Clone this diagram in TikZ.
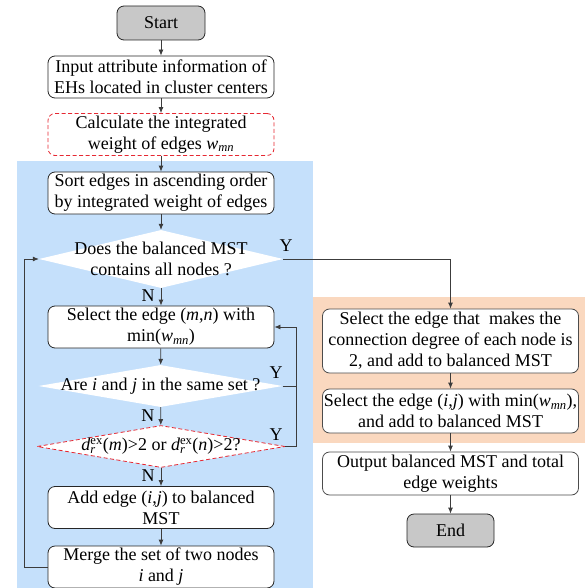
\documentclass[tikz,border=0pt]{standalone}
\usepackage{fontspec}
\setmainfont{Liberation Serif}
\usetikzlibrary{shapes.geometric,arrows.meta}
\definecolor{bgblue}{RGB}{197,224,251}
\definecolor{bgpeach}{RGB}{250,216,191}
\definecolor{termgray}{RGB}{200,200,200}
\definecolor{linegray}{RGB}{60,60,60}
\definecolor{dashred}{RGB}{230,40,50}
\newcommand\wmn{\textit{w}\textsubscript{\textit{mn}}}
\newcommand\drex{\textit{d}\rlap{\textsubscript{\textit{r}}}\textsuperscript{ex}}
\tikzset{
  base/.style={font=\fontsize{18}{21}\selectfont, align=center, inner sep=0pt},
  procbox/.style={base, draw=black!85, line width=0.8pt, fill=white, rounded corners=7pt,
    minimum width=226, minimum height=42},
  dashbox/.style={procbox, draw=dashred, dash pattern=on 4pt off 2.5pt},
  termbox/.style={procbox, fill=termgray, minimum width=88, minimum height=34},
  decision/.style={shape=diamond, fill=white, inner sep=0pt, minimum width=244, minimum height=58},
  txt/.style={base},
  flowarr/.style={draw=linegray, line width=0.8pt, -{Latex[length=6pt,width=5pt]}},
  flowline/.style={draw=linegray, line width=0.8pt},
  yn/.style={base}
}
\begin{document}
\begin{tikzpicture}[x=1pt,y=-1pt]
\useasboundingbox (0,0) rectangle (585,588);
% background panels
\fill[bgblue] (17,161) rectangle (313,588);
\fill[bgpeach] (313,297) rectangle (585,443);

% main column
\node[termbox] (start) at (161,23) {Start};
\node[procbox] (input) at (161,77) {Input attribute information of\\EHs located in cluster centers};
\node[dashbox] (calc) at (161,134.5) {Calculate the integrated\\weight of edges \wmn};
\node[procbox] (sort) at (161,193) {Sort edges in ascending order\\by integrated weight of edges};
\node[decision] (d1) at (161,259) {};
\node[txt] (d1t) at (d1) {Does the balanced MST\\contains all nodes ?};
\node[procbox] (sel) at (161,327) {Select the edge (\textit{m},\textit{n}) with\\min(\wmn)};
\node[decision, minimum height=42] (d2) at (160.5,386) {};
\node[txt] (d2t) at (d2) {Are \textit{i} and \textit{j} in the same set ?};
\node[decision, draw=dashred, line width=0.8pt, dash pattern=on 4pt off 2.5pt, minimum width=248, minimum height=42] (d3) at (161,446.5) {};
\node[txt] (d3t) at (d3) {\drex(\textit{m})>2 or \drex(\textit{n})>2?};
\node[procbox] (add) at (161,507.5) {Add edge (\textit{i},\textit{j}) to balanced\\MST};
\node[procbox] (merge) at (161,567) {Merge the set of two nodes\\\textit{i} and \textit{j}};

% right column
\node[procbox, minimum width=256, minimum height=64, draw=black!70] (s1) at (450.5,341) {Select the edge that\ \ makes the\\connection degree of each node is\\2, and add to balanced MST};
\node[procbox, minimum width=256, minimum height=44, draw=black!70] (s2) at (450.5,411) {Select the edge (\textit{i},\textit{j}) with min(\wmn),\\and add to balanced MST};
\node[procbox, minimum width=256, minimum height=43, draw=black!70] (out) at (450.5,473.5) {Output balanced MST and total\\edge weights};
\node[termbox, minimum width=87, minimum height=33] (end) at (450.5,530.5) {End};

% loop guides
\coordinate (lx) at (24,259);
\coordinate (rx) at (296,327);

% connectors
\draw[flowarr] (start) -- (input);
\draw[flowarr] (input) -- (calc);
\draw[flowarr] (calc) -- (sort);
\draw[flowarr] (sort) -- (d1);
\draw[flowarr] (d1) -- node[yn, pos=0.45, left=6pt] {N} (sel);
\draw[flowarr] (sel) -- (d2);
\draw[flowarr] (d2) -- node[yn, pos=0.45, left=6pt] {N} (d3);
\draw[flowarr] (d3) -- node[yn, pos=0.45, left=6pt] {N} (add);
\draw[flowarr] (add) -- (merge);
\draw[flowarr] (merge.west) -- (merge.west -| lx) -- (lx) -- (d1.west);
\draw[flowarr] (d1.east) -| (s1.north);
\draw[flowarr] (d2.east) -- (d2.east -| rx) -- (rx) -- (sel.east);
\draw[flowline] (d3.east) -- (d3.east -| rx) -- (d2.east -| rx);
\node[yn] (y1) at (286,246) {Y};
\node[yn] (y2) at (276,373) {Y};
\node[yn] (y3) at (276,435) {Y};
\draw[flowarr] (s1) -- (s2);
\draw[flowarr] (s2) -- (out);
\draw[flowarr] (out) -- (end);
\end{tikzpicture}
\end{document}
